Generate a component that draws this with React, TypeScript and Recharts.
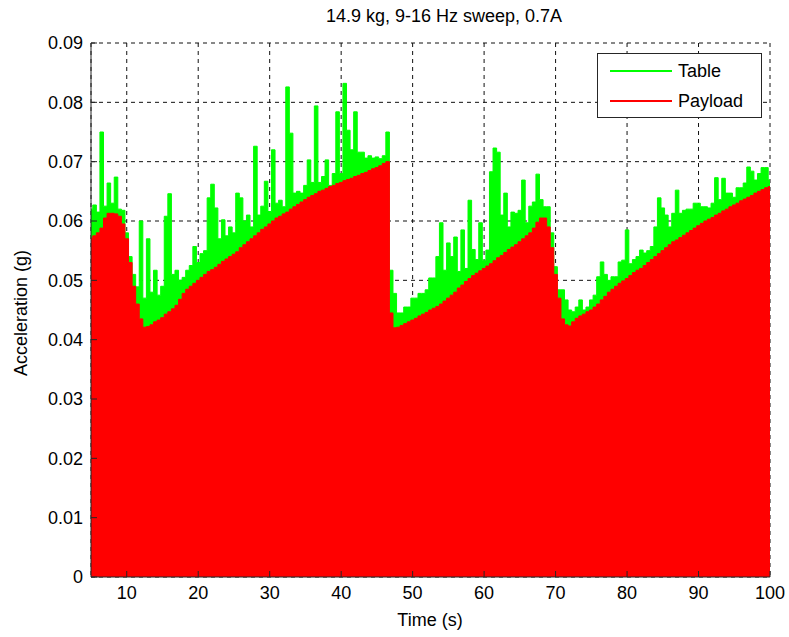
import React from "react";
import { AreaChart, Area, XAxis, YAxis, CartesianGrid } from "recharts";

const times: number[] = [];
for (let i = 0; i <= 190; i++) times.push(5 + i * 0.5);

const payload: number[] = [
  0.0571, 0.0575, 0.058, 0.0588, 0.0605, 0.0613, 0.0613, 0.0612, 0.0608, 0.0595,
  0.057, 0.053, 0.049, 0.046, 0.0435, 0.0421, 0.0422, 0.0425, 0.043, 0.0433,
  0.0437, 0.0443, 0.0447, 0.0452, 0.0458, 0.0468, 0.0478, 0.0485, 0.049, 0.0495,
  0.05, 0.0505, 0.051, 0.0515, 0.0518, 0.0522, 0.0527, 0.0532, 0.0536, 0.054,
  0.0544, 0.0548, 0.0555, 0.056, 0.0565, 0.057, 0.0575, 0.058, 0.0586, 0.059,
  0.0595, 0.06, 0.0605, 0.0608, 0.0612, 0.0615, 0.062, 0.0624, 0.0628, 0.0632,
  0.0636, 0.064, 0.0643, 0.0646, 0.065, 0.0652, 0.0655, 0.0658, 0.066, 0.0663,
  0.0665, 0.0668, 0.067, 0.0672, 0.0675, 0.0677, 0.068, 0.0682, 0.0685, 0.0688,
  0.069, 0.0693, 0.0697, 0.07, 0.0445, 0.042, 0.0421, 0.0424, 0.0427, 0.043,
  0.0433, 0.0436, 0.044, 0.0443, 0.0446, 0.045, 0.0453, 0.0456, 0.046, 0.0465,
  0.047, 0.0475, 0.048, 0.0487, 0.0492, 0.0498, 0.0503, 0.0508, 0.0512, 0.0516,
  0.052, 0.0524, 0.0528, 0.0533, 0.0538, 0.0542, 0.0547, 0.0552, 0.0556, 0.056,
  0.0565, 0.057, 0.0575, 0.058, 0.0588, 0.0598, 0.0605, 0.0605, 0.059, 0.0555,
  0.051, 0.047, 0.0435, 0.0425, 0.0423, 0.043, 0.0436, 0.044, 0.0443, 0.0447,
  0.045, 0.0455, 0.046, 0.0467, 0.0473, 0.048, 0.0485, 0.049, 0.0495, 0.0499,
  0.0503, 0.0508, 0.0513, 0.0517, 0.052, 0.0525, 0.053, 0.0535, 0.054, 0.0545,
  0.055, 0.0555, 0.056, 0.0565, 0.0568, 0.0572, 0.0576, 0.058, 0.0584, 0.0588,
  0.0592, 0.0596, 0.06, 0.0603, 0.0606, 0.061, 0.0613, 0.0617, 0.062, 0.0624,
  0.0627, 0.063, 0.0634, 0.0637, 0.064, 0.0643, 0.0647, 0.065, 0.0653, 0.0656,
  0.0658,
];

const table: number[] = [
  0.062, 0.0627, 0.0615, 0.075, 0.0625, 0.0664, 0.063, 0.0674, 0.062, 0.0618,
  0.058, 0.054, 0.051, 0.0489, 0.06, 0.047, 0.057, 0.048, 0.0517, 0.0475,
  0.049, 0.0608, 0.0646, 0.051, 0.0517, 0.05, 0.0505, 0.0517, 0.0525, 0.0557,
  0.053, 0.0545, 0.055, 0.0639, 0.0662, 0.0622, 0.057, 0.0602, 0.0575, 0.059,
  0.058, 0.0647, 0.0639, 0.06, 0.061, 0.059, 0.0726, 0.061, 0.0625, 0.0667,
  0.0616, 0.072, 0.063, 0.0635, 0.0624, 0.0826, 0.0748, 0.0647, 0.065, 0.0647,
  0.066, 0.0703, 0.0665, 0.0794, 0.0665, 0.0675, 0.0703, 0.066, 0.068, 0.0784,
  0.068, 0.0832, 0.0753, 0.072, 0.0784, 0.0716, 0.0716, 0.0706, 0.071, 0.0706,
  0.0708, 0.0705, 0.071, 0.075, 0.0517, 0.0478, 0.0445, 0.0445, 0.0455, 0.0455,
  0.047, 0.047, 0.0478, 0.0478, 0.0484, 0.0504, 0.0504, 0.054, 0.0597, 0.0517,
  0.0563, 0.054, 0.0573, 0.0515, 0.0585, 0.052, 0.0635, 0.0552, 0.0535, 0.0597,
  0.0534, 0.0551, 0.0683, 0.0723, 0.0716, 0.061, 0.0647, 0.059, 0.0615, 0.0613,
  0.0618, 0.0669, 0.0597, 0.0625, 0.0632, 0.0679, 0.0636, 0.0624, 0.0624, 0.058,
  0.0523, 0.0484, 0.0484, 0.0467, 0.045, 0.0447, 0.0455, 0.0467, 0.045, 0.0455,
  0.0467, 0.0475, 0.0506, 0.0531, 0.051, 0.05, 0.0506, 0.0506, 0.0531, 0.0534,
  0.0585, 0.0528, 0.0535, 0.054, 0.0551, 0.0546, 0.055, 0.0557, 0.059, 0.0639,
  0.0622, 0.061, 0.059, 0.0613, 0.0652, 0.0613, 0.0618, 0.062, 0.062, 0.063,
  0.063, 0.0624, 0.0624, 0.0622, 0.063, 0.0673, 0.0636, 0.0672, 0.0647, 0.0647,
  0.064, 0.0656, 0.0656, 0.0664, 0.0691, 0.0684, 0.0669, 0.068, 0.069, 0.069,
  0.0669,
];

const seriesNames = ["Table", "Payload"];
const seriesColors = ["#00ff00", "#ff0000"];

const xTicks = [10, 20, 30, 40, 50, 60, 70, 80, 90, 100];
const yTicks = [0, 0.01, 0.02, 0.03, 0.04, 0.05, 0.06, 0.07, 0.08, 0.09];

const chartTitle = "14.9 kg, 9-16 Hz sweep, 0.7A";
const xLabel = "Time (s)";
const yLabel = "Acceleration (g)";

const data = times.map((t, i) => ({ t, Table: table[i], Payload: payload[i] }));

const FONT = "'Liberation Sans', Arial, sans-serif";
const FS = 18;
const AXIS = "#262626";

export default function App() {
  return (
    <div style={{ position: "absolute", left: 0, top: 0, width: 789, height: 637, background: "#fff" }}>
      <AreaChart
        width={789}
        height={637}
        data={data}
        margin={{ top: 43, right: 19, bottom: 30, left: 31 }}
      >
        <CartesianGrid stroke="#111" strokeDasharray="4 4" strokeWidth={1} />
        <Area
          type="step"
          dataKey="Table"
          name="Table"
          stroke="#00ff00"
          fill="#00ff00"
          fillOpacity={1}
          strokeWidth={1}
          isAnimationActive={false}
          dot={false}
          activeDot={false}
        />
        <Area
          type="step"
          dataKey="Payload"
          name="Payload"
          stroke="#ff0000"
          fill="#ff0000"
          fillOpacity={1}
          strokeWidth={1}
          isAnimationActive={false}
          dot={false}
          activeDot={false}
        />
        <XAxis
          dataKey="t"
          type="number"
          domain={[5, 100]}
          ticks={xTicks}
          allowDataOverflow
          stroke={AXIS}
          tickSize={-6}
          tickMargin={15}
          height={30}
          tick={{ fill: "#000", fontSize: FS, fontFamily: FONT }}
        />
        <XAxis
          xAxisId="top"
          orientation="top"
          dataKey="t"
          type="number"
          domain={[5, 100]}
          ticks={xTicks}
          allowDataOverflow
          stroke={AXIS}
          tickSize={-6}
          tickFormatter={() => ""}
          height={0}
        />
        <YAxis
          type="number"
          domain={[0, 0.09]}
          ticks={yTicks}
          allowDataOverflow
          stroke={AXIS}
          tickSize={-6}
          tickMargin={14}
          width={60}
          tickFormatter={(v: number) => (v === 0 ? "0" : v.toFixed(2))}
          tick={{ fill: "#000", fontSize: FS, fontFamily: FONT }}
        />
        <YAxis
          yAxisId="right"
          orientation="right"
          type="number"
          domain={[0, 0.09]}
          ticks={yTicks}
          stroke={AXIS}
          tickSize={-6}
          tickFormatter={() => ""}
          width={0}
        />
      </AreaChart>
      <div
        style={{
          position: "absolute",
          left: 597,
          top: 53,
          width: 163,
          height: 63,
          border: `1px solid ${AXIS}`,
          background: "#fff",
          fontFamily: FONT,
          fontSize: FS,
          color: "#000",
        }}
      >
        {seriesNames.map((n, i) => (
          <div
            key={n}
            style={{ position: "absolute", left: 0, top: 5 + i * 30, height: 24, display: "flex", alignItems: "center" }}
          >
            <div style={{ marginLeft: 12, width: 62, height: 2, background: seriesColors[i] }} />
            <span style={{ marginLeft: 6 }}>{n}</span>
          </div>
        ))}
      </div>
      <div
        style={{
          position: "absolute",
          left: 244,
          width: 400,
          top: 6,
          textAlign: "center",
          fontFamily: FONT,
          fontSize: FS,
          color: "#000",
        }}
      >
        {chartTitle}
      </div>
      <div
        style={{
          position: "absolute",
          left: 230,
          width: 400,
          top: 610,
          textAlign: "center",
          fontFamily: FONT,
          fontSize: FS,
          color: "#000",
        }}
      >
        {xLabel}
      </div>
      <div
        style={{
          position: "absolute",
          left: 22 - 100,
          width: 200,
          top: 313 - 11,
          textAlign: "center",
          fontFamily: FONT,
          fontSize: FS,
          color: "#000",
          transform: "rotate(-90deg)",
          transformOrigin: "100px 11px",
        }}
      >
        {yLabel}
      </div>
    </div>
  );
}
